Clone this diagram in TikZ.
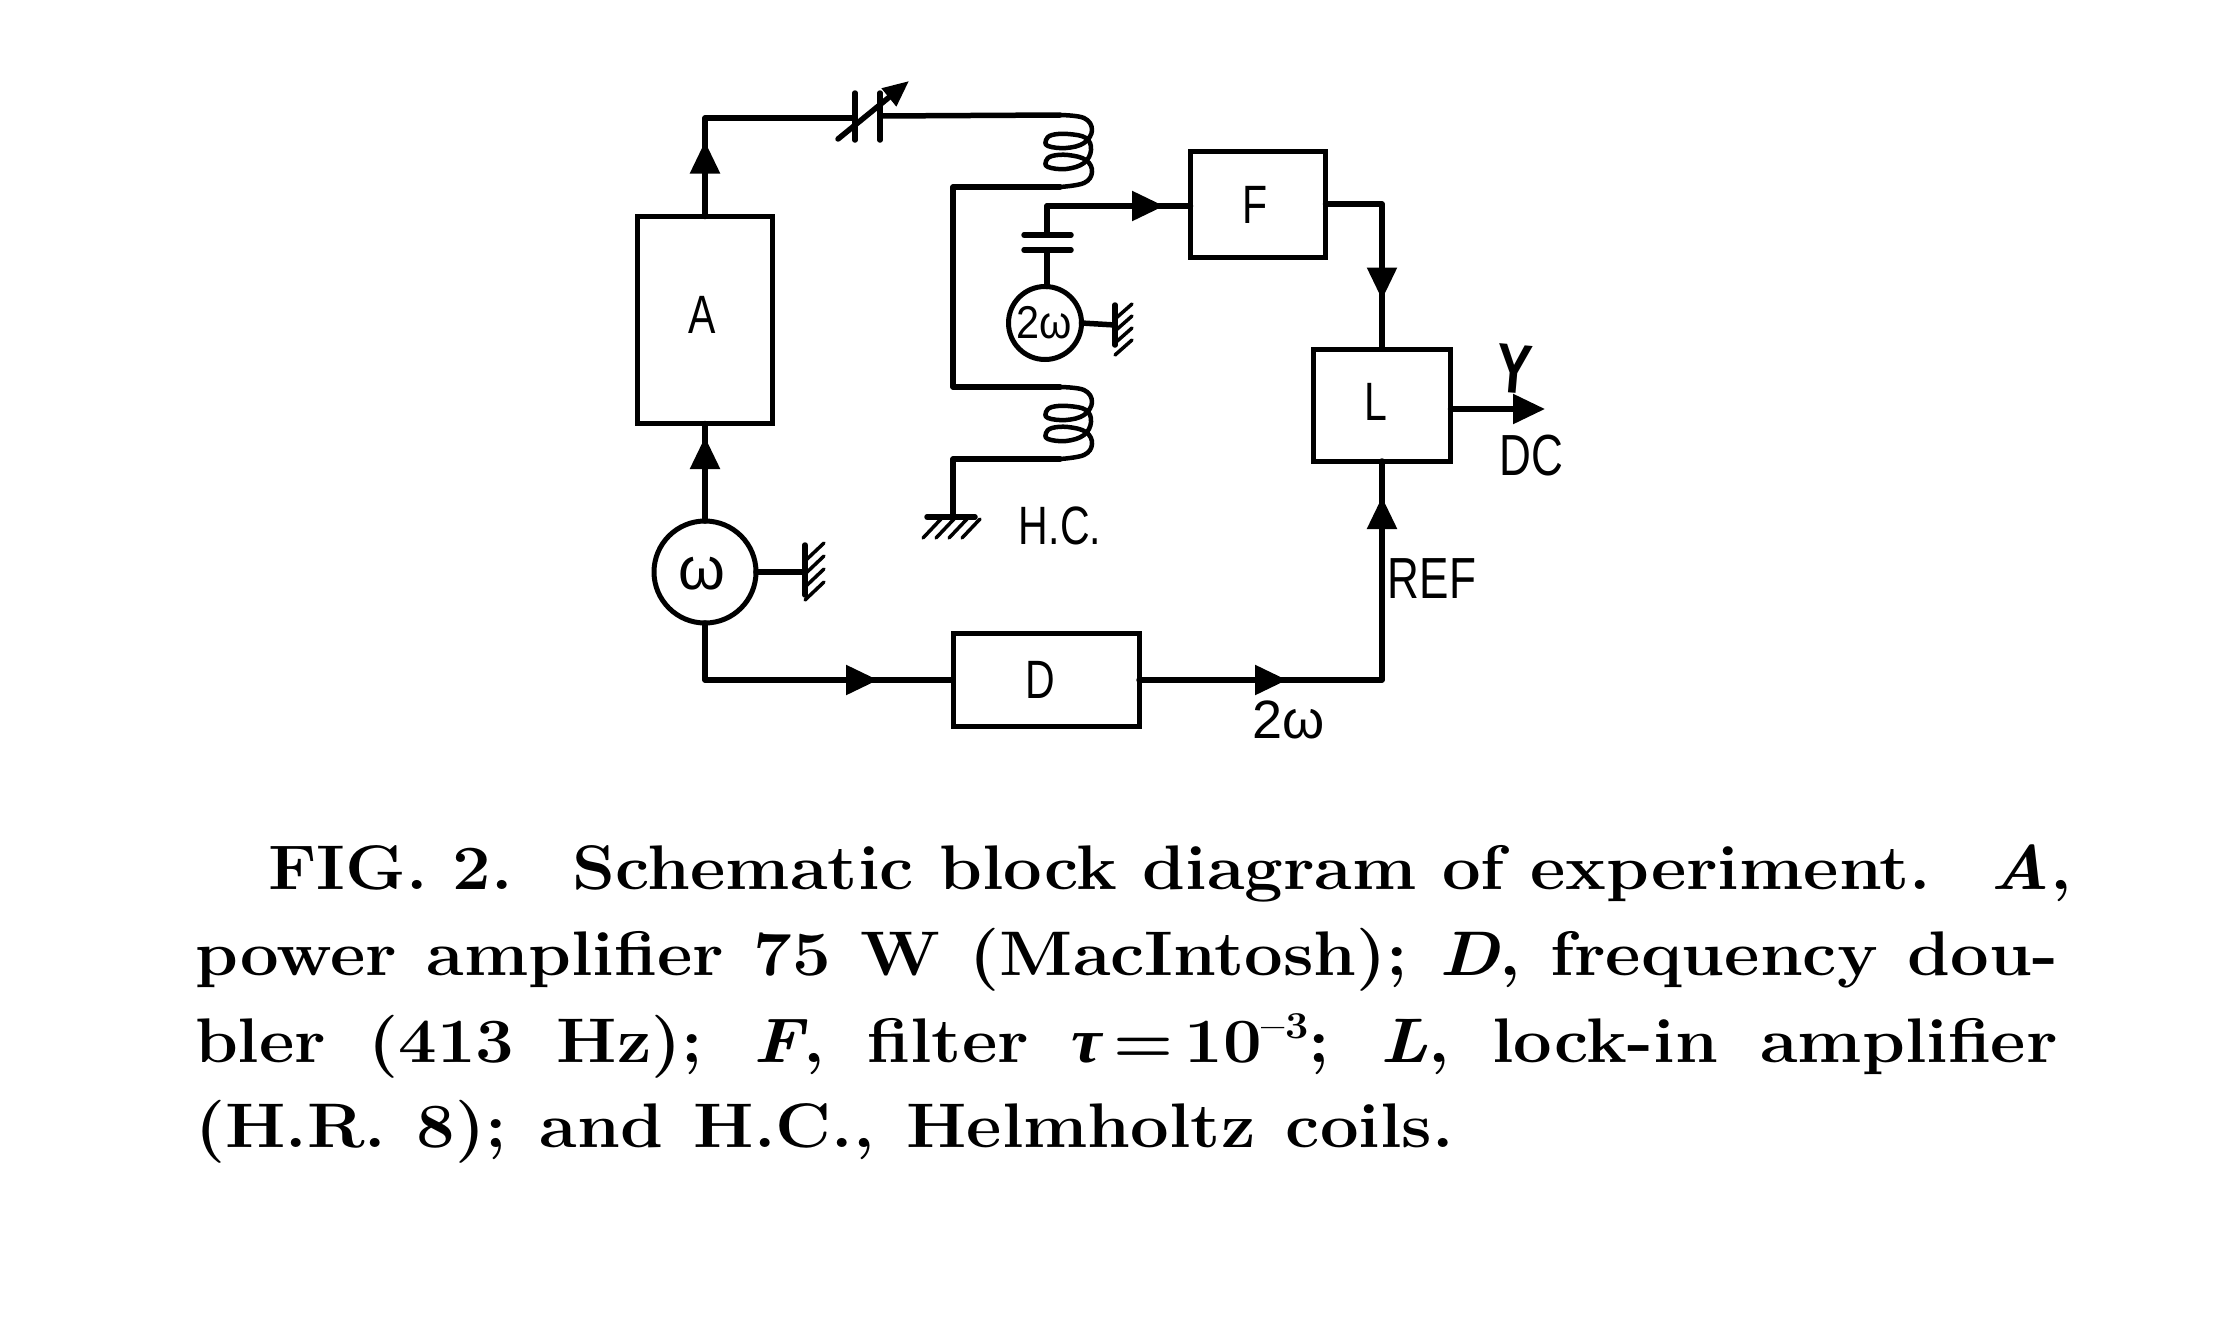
\documentclass[tikz,border=0pt]{standalone}
\usepackage{fontspec}
\usepackage{graphicx}
\usetikzlibrary{arrows.meta,decorations.markings}
\newfontfamily\labfont{Liberation Sans}
\newfontfamily\greekfont{Liberation Serif}
\newcommand\lbl[2]{{\fontsize{#1}{#1}\selectfont\labfont\scalebox{.76}[1]{#2}}}
\newcommand\wid[2]{{\fontsize{#1}{#1}\selectfont\labfont #2}}
\newcommand\capline[2]{\scalebox{1.09}[1]{\makebox[#1pt][s]{\bfseries #2}}}
\newcommand\coilshape{plot[smooth,tension=.65] coordinates {(1060,115) (1084,118) (1092,130) (1084,143) (1066,148) (1048,146) (1046,140) (1052,135) (1068,134) (1086,138) (1091,150) (1084,163) (1066,169) (1048,167) (1046,161) (1052,156) (1068,155) (1086,160) (1092,172) (1084,183) (1060,187)}}
\tikzset{
  wire/.style={line width=5.5pt,line join=round,line cap=round},
  coil/.style={line width=4.5pt,line join=round,line cap=round},
  box/.style={draw,line width=5pt,rectangle,inner sep=0pt,outer sep=0pt},
  src/.style={draw,line width=5pt,circle,inner sep=0pt,outer sep=0pt},
  txt/.style={inner sep=0pt,outer sep=0pt,anchor=center},
  hatch/.style={line width=3.5pt,line cap=round},
  arr/.style={postaction={decorate},decoration={markings,mark=at position #1 with {\arrow{Triangle[length=32pt,width=29pt]}}}},
  capt/.style={inner sep=0pt,outer sep=0pt,anchor=base west,font=\fontsize{63}{70}\selectfont}
}
\begin{document}
\begin{tikzpicture}[x=1pt,y=-1pt]
\useasboundingbox (0,0) rectangle (2213,1339);
% blocks
\node[box,minimum width=135pt,minimum height=207pt] (A) at (705,320) {};
\node[box,minimum width=135pt,minimum height=106pt] (F) at (1258,204) {};
\node[box,minimum width=137pt,minimum height=112pt] (L) at (1382,405) {};
\node[box,minimum width=186pt,minimum height=93pt] (D) at (1046,680) {};
\node[src,minimum size=102pt] (om) at (705,572) {};
\node[src,minimum size=73pt] (tw) at (1045,323) {};
\node[txt] (Atxt) at (702,315) {\lbl{54}{A}};
\node[txt] (Ftxt) at (1255,205) {\lbl{54}{F}};
\node[txt] (Ltxt) at (1376,402) {\lbl{54}{L}};
\node[txt] (Dtxt) at (1040,680) {\lbl{54}{D}};
\node[txt] (omtxt) at (702,574) {\wid{60}{ω}};
\node[txt] (twtxt) at (1044,323) {\scalebox{.9}[1]{\wid{46}{2ω}}};
% named points
\coordinate (c1) at (705,118);
\coordinate (capL) at (855,118);
\coordinate (capR) at (880,116);
\coordinate (co1a) at (1060,115);
\coordinate (co1b) at (1060,187);
\coordinate (co2a) at (1060,387);
\coordinate (co2b) at (1060,459);
\coordinate (lw1) at (953,187);
\coordinate (lw2) at (953,387);
\coordinate (gw) at (953,459);
\coordinate (gnd) at (953,517);
\coordinate (cap1) at (1047,235);
\coordinate (cap2) at (1047,250);
\coordinate (capw) at (1047,206);
\coordinate (omg) at (805,572);
\coordinate (twg) at (1115,325);
\coordinate (out) at (1545,409);
\coordinate (fc) at (1382,204);
\coordinate (dc) at (1382,680);
% connectors
\draw[wire,arr=75pt] (A.north) -- (c1) -- (capL);
\draw[wire] (capR) -- (co1a);
\draw[coil] \coilshape;
\draw[coil,shift={(0,272)}] \coilshape;
\draw[wire] (co1b) -- (lw1) -- (lw2) -- (co2a);
\draw[wire] (co2b) -- (gw) -- (gnd);
\draw[wire,arr=84pt] (om.north) -- (A.south);
\draw[wire,arr=230pt] (om.south) |- (D.west);
\draw[wire,arr=148pt] (D.east) -- (dc) -- (L.south);
\draw[wire,arr=152pt] (F.east) -- (fc) -- (L.north);
\draw[wire,arr=117pt] (capw) -- (F.west |- capw);
\draw[wire] (cap1) -- (capw);
\draw[wire] (cap2) -- (cap2 |- tw.north);
\draw[wire] (om.east) -- (omg);
\draw[wire] (tw.east) -- (twg);
\draw[wire,-{Triangle[length=32pt,width=29pt]}] (L.east |- out) -- (out);
\path[wire,arr=426pt] (D.east) -- (dc) -- (L.south);
% variable capacitor
\draw[wire] (855,93) -- (855,140);
\draw[wire] (880,93) -- (880,140);
\draw[wire,-{Triangle[length=26pt,width=22pt]}] (838,139) -- (909,81);
% capacitor plates
\draw[wire] (1024,235) -- (1071,235);
\draw[wire] (1024,250) -- (1071,250);
% grounds
\draw[wire] (805,545) -- (805,595);
\foreach \yy in {561,574,587,600}{\draw[hatch] (805,\yy) -- (824,\yy-18);}
\draw[wire] (1115,305) -- (1115,345);
\foreach \yy in {319,331,343,355}{\draw[hatch] (1115,\yy) -- (1132,\yy-15);}
\draw[wire] (927,517) -- (975,517);
\foreach \xx in {941,954,967,980}{\draw[hatch] (\xx,519) -- (\xx-18,538);}
% labels
\node[txt] (hc) at (1060,526) {\lbl{54}{H.C.}};
\node[txt] (ref) at (1432,579) {\lbl{58}{REF}};
\node[txt] (dcl) at (1531,456) {\lbl{58}{DC}};
\node[txt] (two) at (1289,720) {\wid{54}{2ω}};
\node[txt,rotate=-5] (yy) at (1514,369) {\lbl{70}{\bfseries Y}};
% caption
\node[capt] (l1) at (268,889) {\capline{1655}{FIG. 2. \ Schematic block diagram of experiment. \ \textit{A},}};
\node[capt] (l2) at (195,975) {\capline{1709}{power amplifier 75 W (MacIntosh); \textit{D}, frequency dou-}};
\node[capt] (l3) at (195,1062) {\capline{1709}{bler (413 Hz); \textit{F}, filter {\greekfont\itshape τ}\,=\,10\raisebox{24pt}{\fontsize{38}{38}\selectfont –3}; \textit{L}, lock-in amplifier}};
\node[capt] (l4) at (195,1147) {\capline{1155}{(H.R. 8); and H.C., Helmholtz coils.}};
\end{tikzpicture}
\end{document}
